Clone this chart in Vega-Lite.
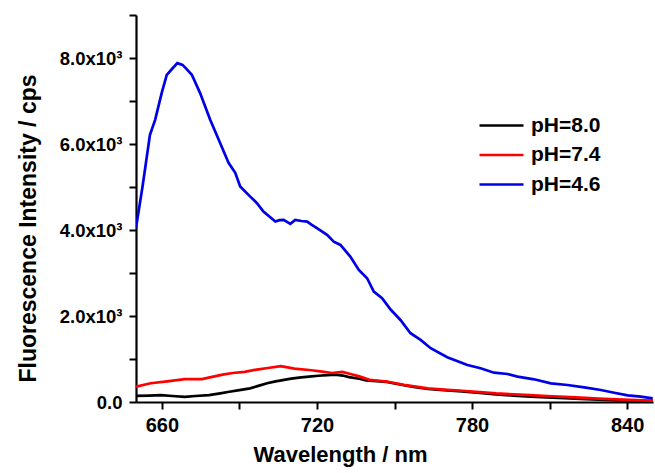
{
  "$schema": "https://vega.github.io/schema/vega-lite/v6.json",
  "autosize": {"type": "none"},
  "padding": {"left": 136, "top": 15, "right": 2, "bottom": 71},
  "width": 517,
  "height": 387,
  "background": "white",
  "config": {
    "view": {"stroke": null},
    "font": "Liberation Sans",
    "axis": {
      "domainColor": "black", "domainWidth": 2.2, "tickColor": "black", "tickWidth": 2, "tickSize": 7,
      "labelColor": "black", "labelFont": "Liberation Sans", "labelFontWeight": "bold",
      "titleColor": "black", "titleFont": "Liberation Sans", "titleFontWeight": "bold",
      "grid": false
    }
  },
  "data": {"values": [
    {"wl":650,"I":143,"s":"pH=8.0"},{"wl":655,"I":150,"s":"pH=8.0"},{"wl":659.7,"I":159,"s":"pH=8.0"},{"wl":664,"I":140,"s":"pH=8.0"},{"wl":668.9,"I":119,"s":"pH=8.0"},{"wl":673,"I":140,"s":"pH=8.0"},{"wl":678.2,"I":159,"s":"pH=8.0"},{"wl":682,"I":195,"s":"pH=8.0"},{"wl":686.1,"I":238,"s":"pH=8.0"},{"wl":690,"I":275,"s":"pH=8.0"},{"wl":694.1,"I":318,"s":"pH=8.0"},{"wl":697,"I":370,"s":"pH=8.0"},{"wl":700.7,"I":437,"s":"pH=8.0"},{"wl":704,"I":480,"s":"pH=8.0"},{"wl":707.3,"I":516,"s":"pH=8.0"},{"wl":710,"I":545,"s":"pH=8.0"},{"wl":713.9,"I":572,"s":"pH=8.0"},{"wl":717,"I":590,"s":"pH=8.0"},{"wl":720.5,"I":611,"s":"pH=8.0"},{"wl":724,"I":625,"s":"pH=8.0"},{"wl":727.1,"I":635,"s":"pH=8.0"},{"wl":730,"I":615,"s":"pH=8.0"},{"wl":732.4,"I":580,"s":"pH=8.0"},{"wl":736.4,"I":540,"s":"pH=8.0"},{"wl":739,"I":500,"s":"pH=8.0"},{"wl":743,"I":485,"s":"pH=8.0"},{"wl":747,"I":468,"s":"pH=8.0"},{"wl":750,"I":430,"s":"pH=8.0"},{"wl":753.6,"I":389,"s":"pH=8.0"},{"wl":758,"I":345,"s":"pH=8.0"},{"wl":762.9,"I":302,"s":"pH=8.0"},{"wl":769,"I":275,"s":"pH=8.0"},{"wl":776.1,"I":246,"s":"pH=8.0"},{"wl":783,"I":210,"s":"pH=8.0"},{"wl":789.3,"I":175,"s":"pH=8.0"},{"wl":796,"I":150,"s":"pH=8.0"},{"wl":802.6,"I":127,"s":"pH=8.0"},{"wl":809,"I":105,"s":"pH=8.0"},{"wl":815.8,"I":87,"s":"pH=8.0"},{"wl":822,"I":70,"s":"pH=8.0"},{"wl":829,"I":56,"s":"pH=8.0"},{"wl":836,"I":40,"s":"pH=8.0"},{"wl":842.2,"I":24,"s":"pH=8.0"},{"wl":850,"I":20,"s":"pH=8.0"},
    {"wl":650,"I":357,"s":"pH=7.4"},{"wl":655.7,"I":437,"s":"pH=7.4"},{"wl":662,"I":480,"s":"pH=7.4"},{"wl":668.9,"I":532,"s":"pH=7.4"},{"wl":675.5,"I":532,"s":"pH=7.4"},{"wl":679,"I":580,"s":"pH=7.4"},{"wl":683.5,"I":635,"s":"pH=7.4"},{"wl":687.4,"I":675,"s":"pH=7.4"},{"wl":692,"I":700,"s":"pH=7.4"},{"wl":696.7,"I":754,"s":"pH=7.4"},{"wl":701,"I":790,"s":"pH=7.4"},{"wl":706,"I":834,"s":"pH=7.4"},{"wl":711.3,"I":778,"s":"pH=7.4"},{"wl":717.9,"I":738,"s":"pH=7.4"},{"wl":722,"I":705,"s":"pH=7.4"},{"wl":725.8,"I":675,"s":"pH=7.4"},{"wl":729.8,"I":699,"s":"pH=7.4"},{"wl":733,"I":650,"s":"pH=7.4"},{"wl":736.4,"I":596,"s":"pH=7.4"},{"wl":740.3,"I":516,"s":"pH=7.4"},{"wl":747,"I":476,"s":"pH=7.4"},{"wl":753.6,"I":397,"s":"pH=7.4"},{"wl":762.9,"I":318,"s":"pH=7.4"},{"wl":769,"I":290,"s":"pH=7.4"},{"wl":776.1,"I":262,"s":"pH=7.4"},{"wl":783,"I":230,"s":"pH=7.4"},{"wl":789.3,"I":199,"s":"pH=7.4"},{"wl":796,"I":178,"s":"pH=7.4"},{"wl":802.6,"I":159,"s":"pH=7.4"},{"wl":809,"I":140,"s":"pH=7.4"},{"wl":815.8,"I":119,"s":"pH=7.4"},{"wl":822,"I":100,"s":"pH=7.4"},{"wl":829,"I":79,"s":"pH=7.4"},{"wl":836,"I":60,"s":"pH=7.4"},{"wl":846.2,"I":40,"s":"pH=7.4"},{"wl":850,"I":30,"s":"pH=7.4"},
    {"wl":650,"I":4050,"s":"pH=4.6"},{"wl":652.5,"I":5000,"s":"pH=4.6"},{"wl":655.4,"I":6213,"s":"pH=4.6"},{"wl":657.4,"I":6562,"s":"pH=4.6"},{"wl":660,"I":7200,"s":"pH=4.6"},{"wl":661.9,"I":7609,"s":"pH=4.6"},{"wl":664,"I":7750,"s":"pH=4.6"},{"wl":666,"I":7880,"s":"pH=4.6"},{"wl":668,"I":7840,"s":"pH=4.6"},{"wl":669.6,"I":7742,"s":"pH=4.6"},{"wl":671.6,"I":7609,"s":"pH=4.6"},{"wl":674.8,"I":7183,"s":"pH=4.6"},{"wl":678.7,"I":6562,"s":"pH=4.6"},{"wl":682.5,"I":6027,"s":"pH=4.6"},{"wl":685.8,"I":5562,"s":"pH=4.6"},{"wl":688.4,"I":5329,"s":"pH=4.6"},{"wl":690.3,"I":5010,"s":"pH=4.6"},{"wl":694.2,"I":4777,"s":"pH=4.6"},{"wl":696.8,"I":4624,"s":"pH=4.6"},{"wl":699.3,"I":4428,"s":"pH=4.6"},{"wl":703.9,"I":4196,"s":"pH=4.6"},{"wl":705.5,"I":4230,"s":"pH=4.6"},{"wl":707.1,"I":4235,"s":"pH=4.6"},{"wl":709.7,"I":4142,"s":"pH=4.6"},{"wl":711.6,"I":4235,"s":"pH=4.6"},{"wl":714,"I":4210,"s":"pH=4.6"},{"wl":716.2,"I":4196,"s":"pH=4.6"},{"wl":718,"I":4120,"s":"pH=4.6"},{"wl":720,"I":4042,"s":"pH=4.6"},{"wl":723.9,"I":3886,"s":"pH=4.6"},{"wl":726.5,"I":3730,"s":"pH=4.6"},{"wl":729.1,"I":3653,"s":"pH=4.6"},{"wl":732.9,"I":3381,"s":"pH=4.6"},{"wl":736.2,"I":3072,"s":"pH=4.6"},{"wl":739.4,"I":2879,"s":"pH=4.6"},{"wl":742,"I":2567,"s":"pH=4.6"},{"wl":745.2,"I":2413,"s":"pH=4.6"},{"wl":748.5,"I":2150,"s":"pH=4.6"},{"wl":752.3,"I":1908,"s":"pH=4.6"},{"wl":756.2,"I":1599,"s":"pH=4.6"},{"wl":760.1,"I":1443,"s":"pH=4.6"},{"wl":764,"I":1250,"s":"pH=4.6"},{"wl":770.4,"I":1040,"s":"pH=4.6"},{"wl":778.2,"I":861,"s":"pH=4.6"},{"wl":783.3,"I":784,"s":"pH=4.6"},{"wl":788.5,"I":682,"s":"pH=4.6"},{"wl":793.7,"I":652,"s":"pH=4.6"},{"wl":797.6,"I":589,"s":"pH=4.6"},{"wl":804,"I":528,"s":"pH=4.6"},{"wl":810.5,"I":435,"s":"pH=4.6"},{"wl":816.9,"I":396,"s":"pH=4.6"},{"wl":823.4,"I":342,"s":"pH=4.6"},{"wl":829.8,"I":279,"s":"pH=4.6"},{"wl":835,"I":216,"s":"pH=4.6"},{"wl":840.2,"I":156,"s":"pH=4.6"},{"wl":845.3,"I":123,"s":"pH=4.6"},{"wl":849.9,"I":86,"s":"pH=4.6"}
  ]},
  "mark": {"type": "line", "strokeWidth": 2.7, "clip": true},
  "encoding": {
    "x": {
      "field": "wl", "type": "quantitative",
      "scale": {"domain": [650, 850], "nice": false, "zero": false},
      "axis": {
        "values": [660, 690, 720, 750, 780, 810, 840],
        "labelExpr": "datum.value % 60 == 0 ? datum.label : ''",
        "labelFontSize": 20, "labelPadding": 6, "labelFlush": false,
        "title": "Wavelength / nm", "titleFontSize": 22, "titleX": 204, "titleY": 52, "titleBaseline": "middle", "titleAnchor": "middle", "titleAlign": "center"
      }
    },
    "y": {
      "field": "I", "type": "quantitative",
      "scale": {"domain": [0, 9000], "nice": false},
      "axis": {
        "values": [0, 1000, 2000, 3000, 4000, 5000, 6000, 7000, 8000, 9000],
        "labelExpr": "datum.value == 0 ? '0.0' : (datum.value % 2000 == 0 && datum.value < 9000 ? format(datum.value / 1000, '.1f') + 'x10³' : '')",
        "labelFontSize": 18.5, "labelPadding": 7, "labelFlush": false,
        "title": "Fluorescence Intensity / cps", "titleFontSize": 23, "titleX": -108, "titleY": 213, "titleBaseline": "middle", "titleAngle": -90, "titleAlign": "center"
      }
    },
    "color": {
      "field": "s", "type": "nominal",
      "scale": {"domain": ["pH=8.0", "pH=7.4", "pH=4.6"], "range": ["#000000", "#ff0000", "#0000e6"]},
      "legend": {
        "title": null, "orient": "none", "legendX": 353, "legendY": 98,
        "symbolType": "M-2,0H2", "symbolSize": 484, "symbolStrokeWidth": 2.7,
        "labelFontSize": 21, "labelFontWeight": "bold", "labelColor": "black", "labelFont": "Liberation Sans",
        "labelOffset": 17, "rowPadding": 6.5, "padding": 0
      }
    }
  }
}
